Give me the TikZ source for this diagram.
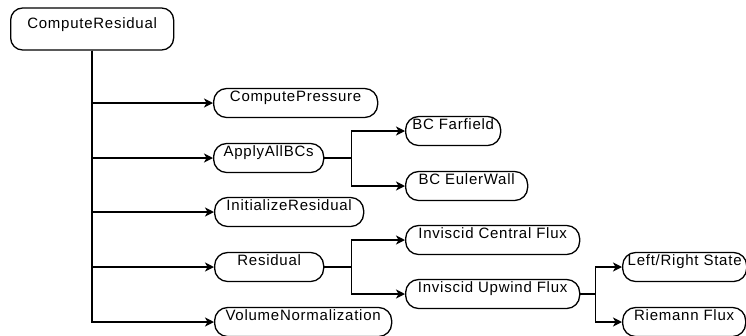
\documentclass[tikz,border=0pt]{standalone}
\usepackage{fontspec}
\setmainfont{Liberation Sans}[LetterSpace=5]
\usetikzlibrary{arrows.meta}
\begin{document}
\begin{tikzpicture}[x=1pt,y=-1pt,
  box/.style={draw, line width=1.3pt, rounded corners=13pt, font=\fontsize{15}{18}\selectfont,
    inner xsep=0pt, inner ysep=2pt, text height=11pt, text depth=14pt, anchor=west},
  rootbox/.style={box, rounded corners=12pt, inner ysep=4pt, text height=16pt, text depth=18pt},
  conn/.style={line width=1.4pt, -{Stealth[length=9pt,width=9pt,inset=2.5pt]}}]
\useasboundingbox (0,0) rectangle (746,335);
\clip (0,0) rectangle (746,335);
\node[rootbox, minimum width=163pt] (root) at (10,29) {ComputeResidual};
\node[box, minimum width=164pt] (cp) at (213,103) {ComputePressure};
\node[box, minimum width=110pt] (ab) at (213,158) {ApplyAllBCs};
\node[box, minimum width=95pt] (bcf) at (405,131) {BC Farfield};
\node[box, minimum width=122pt] (bce) at (405,186) {BC EulerWall};
\node[box, minimum width=149pt] (ir) at (214,212) {InitializeResidual};
\node[box, minimum width=109pt] (res) at (214,267) {Residual};
\node[box, minimum width=174pt] (icf) at (405,240) {Inviscid Central Flux};
\node[box, minimum width=174pt] (iuf) at (405,294) {Inviscid Upwind Flux};
\node[box, minimum width=177pt] (vn) at (214,322) {VolumeNormalization};
\node[box, minimum width=124pt] (lrs) at (622,267) {Left/Right State};
\node[box, minimum width=123pt] (rf) at (622,322) {Riemann Flux};
\foreach \t in {cp,ab,ir,res,vn}{\draw[conn] (root.south) |- (\t.west);}
\draw[conn] (ab.east) -- ++(27,0) |- (bcf.west);
\draw[conn] (ab.east) -- ++(27,0) |- (bce.west);
\draw[conn] (res.east) -- ++(27,0) |- (icf.west);
\draw[conn] (res.east) -- ++(27,0) |- (iuf.west);
\draw[conn] (iuf.east) -- ++(15,0) |- (lrs.west);
\draw[conn] (iuf.east) -- ++(15,0) |- (rf.west);
\end{tikzpicture}
\end{document}
